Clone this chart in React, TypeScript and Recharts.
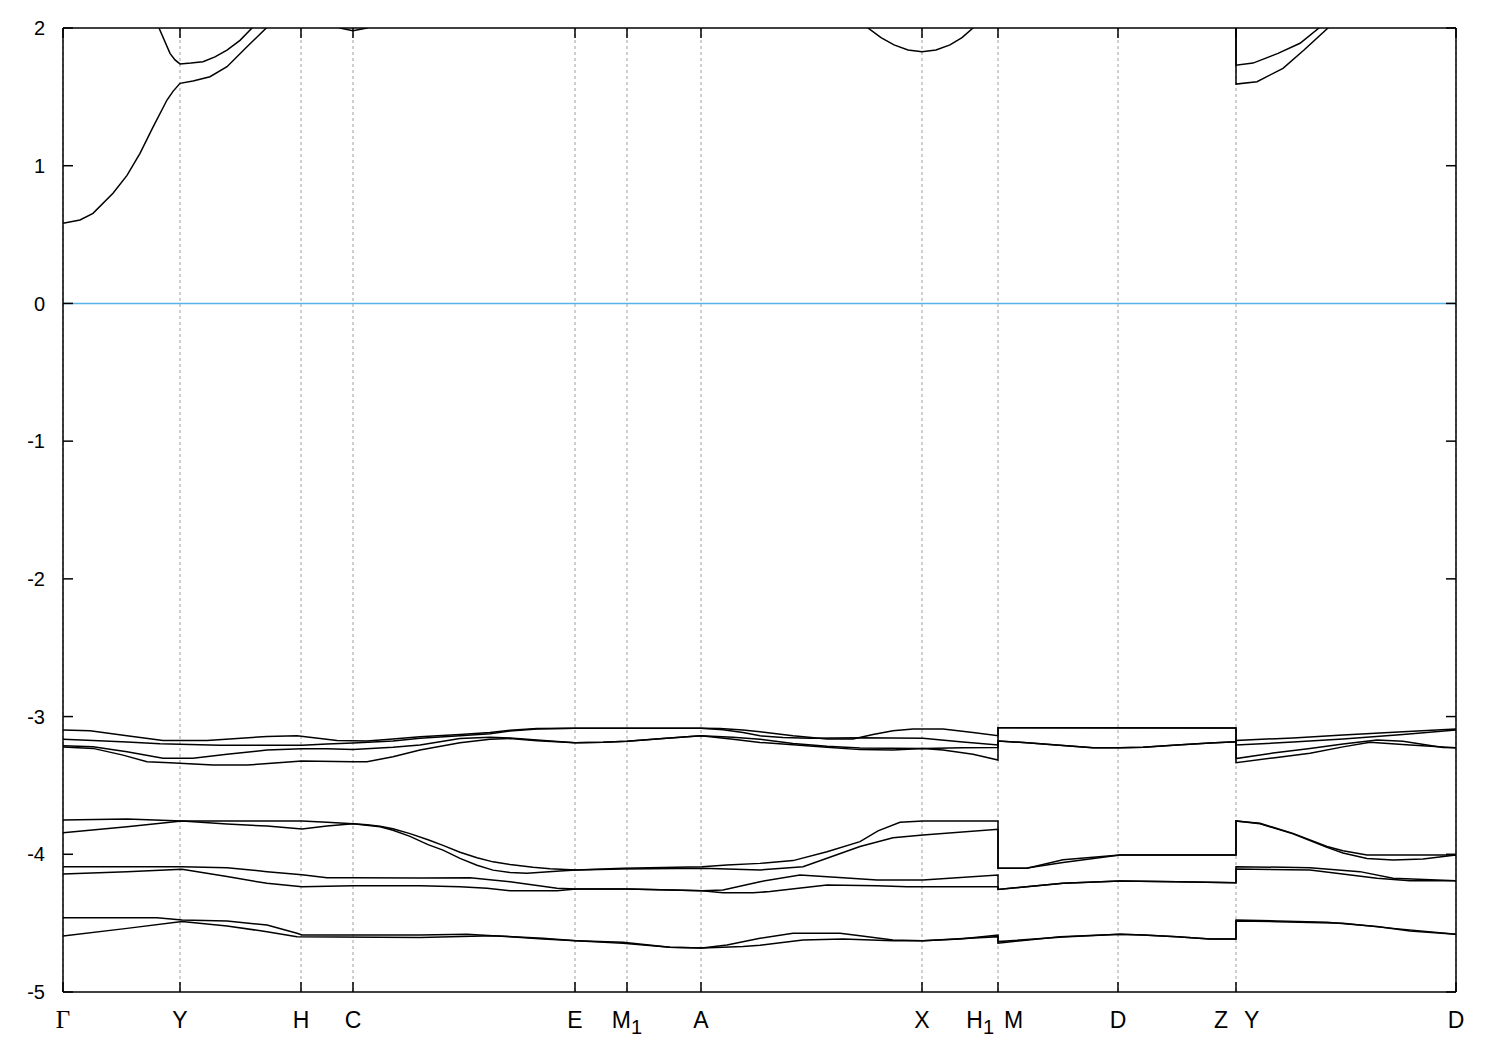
import React from 'react';
import { LineChart, Line, XAxis, YAxis, CartesianGrid, ReferenceLine } from 'recharts';

// k-path positions of the high-symmetry points and their labels
const kTicks = [0, 117, 238, 290, 512, 564, 638, 859, 935, 1055, 1173, 1393];
const kLabels = ['Γ', 'Y', 'H', 'C', 'E', 'M_1', 'A', 'X', 'H_1|M', 'D', 'Z|Y', 'D'];
const eTicks = [-5, -4, -3, -2, -1, 0, 1, 2];

// conduction bands [k, E]
const c1 = [[0,0.582],[17,0.606],[30,0.654],[50,0.80],[64,0.93],[77,1.09],[90,1.28],[104,1.477],[110,1.54],[117,1.598],[130,1.615],[147,1.646],[164,1.719],[184,1.864],[204,2.005],[238,2.2],[262,2.08],[277,2.0],[290,1.98],[304,2.0],[320,2.1],[350,2.3],[780,2.3],[805,2.0],[818,1.93],[831,1.877],[845,1.84],[859,1.828],[873,1.84],[887,1.877],[899,1.93],[910,2.0],[935,2.2],[935,2.5],[1173,2.5],[1173,1.593],[1194,1.61],[1220,1.707],[1241,1.84],[1265,2.0],[1290,2.2],[1393,2.5]];
const c2 = [[0,2.6],[80,2.25],[96,2.0],[107,1.816],[112,1.768],[117,1.739],[128,1.745],[140,1.755],[152,1.79],[164,1.84],[177,1.91],[189,2.0],[210,2.25],[230,2.6],[1173,2.6],[1173,1.73],[1190,1.745],[1215,1.816],[1237,1.889],[1256,2.0],[1280,2.2],[1393,2.6]];

// valence bands, upper group
const v1 = [[0,-3.098],[27,-3.103],[64,-3.139],[100,-3.173],[144,-3.173],[204,-3.144],[234,-3.139],[274,-3.173],[304,-3.177],[330,-3.163],[357,-3.146],[397,-3.13],[427,-3.115],[447,-3.10],[474,-3.087],[512,-3.085],[564,-3.085],[638,-3.085],[657,-3.086],[680,-3.097],[697,-3.110],[730,-3.14],[764,-3.163],[790,-3.163],[810,-3.13],[830,-3.103],[850,-3.09],[880,-3.09],[910,-3.115],[935,-3.139],[935,-3.081],[1173,-3.083],[1173,-3.335],[1210,-3.30],[1247,-3.267],[1280,-3.22],[1307,-3.187],[1347,-3.207],[1393,-3.226]];
const v2 = [[0,-3.165],[30,-3.173],[64,-3.185],[97,-3.197],[157,-3.209],[239,-3.209],[264,-3.20],[290,-3.192],[330,-3.177],[357,-3.158],[397,-3.14],[427,-3.125],[447,-3.105],[474,-3.09],[512,-3.085],[564,-3.085],[638,-3.085],[660,-3.095],[680,-3.115],[697,-3.14],[720,-3.152],[747,-3.158],[797,-3.153],[860,-3.158],[897,-3.182],[935,-3.206],[935,-3.177],[964,-3.19],[1000,-3.21],[1030,-3.226],[1057,-3.226],[1080,-3.222],[1114,-3.207],[1147,-3.192],[1173,-3.183],[1173,-3.207],[1230,-3.185],[1280,-3.163],[1340,-3.13],[1393,-3.098]];
const v3 = [[0,-3.211],[30,-3.219],[64,-3.255],[100,-3.303],[130,-3.303],[164,-3.274],[204,-3.243],[239,-3.233],[264,-3.233],[290,-3.240],[330,-3.223],[357,-3.206],[397,-3.16],[427,-3.15],[447,-3.155],[474,-3.17],[512,-3.19],[540,-3.187],[564,-3.18],[600,-3.16],[638,-3.139],[670,-3.15],[697,-3.165],[730,-3.195],[764,-3.215],[797,-3.228],[860,-3.231],[900,-3.226],[935,-3.224],[935,-3.177],[964,-3.19],[1000,-3.21],[1030,-3.226],[1057,-3.226],[1080,-3.222],[1114,-3.207],[1147,-3.192],[1173,-3.183],[1173,-3.173],[1230,-3.155],[1280,-3.134],[1340,-3.11],[1393,-3.09]];
const v4 = [[0,-3.221],[30,-3.231],[60,-3.28],[84,-3.328],[107,-3.335],[150,-3.352],[184,-3.352],[239,-3.323],[290,-3.328],[304,-3.328],[330,-3.291],[357,-3.243],[397,-3.19],[427,-3.165],[447,-3.16],[474,-3.175],[512,-3.19],[540,-3.187],[564,-3.18],[600,-3.16],[638,-3.139],[670,-3.165],[697,-3.188],[730,-3.205],[764,-3.222],[797,-3.24],[830,-3.243],[860,-3.231],[880,-3.243],[910,-3.274],[935,-3.316],[935,-3.081],[1173,-3.083],[1173,-3.305],[1210,-3.265],[1247,-3.231],[1280,-3.20],[1314,-3.170],[1340,-3.18],[1380,-3.224],[1393,-3.226]];

// valence bands, middle group
const w1 = [[0,-3.751],[64,-3.744],[119,-3.758],[164,-3.758],[239,-3.758],[264,-3.768],[290,-3.778],[304,-3.785],[317,-3.797],[330,-3.815],[347,-3.85],[365,-3.895],[380,-3.935],[397,-3.985],[414,-4.025],[430,-4.055],[447,-4.075],[470,-4.095],[487,-4.105],[513,-4.114],[560,-4.102],[639,-4.09],[664,-4.078],[697,-4.066],[730,-4.046],[764,-3.981],[797,-3.908],[815,-3.83],[837,-3.768],[860,-3.758],[935,-3.758],[935,-4.102],[964,-4.102],[1000,-4.04],[1057,-4.005],[1173,-4.005],[1173,-3.758],[1197,-3.775],[1230,-3.848],[1264,-3.944],[1280,-3.975],[1304,-4.005],[1393,-4.005]];
const w2 = [[0,-3.843],[64,-3.80],[119,-3.758],[164,-3.78],[204,-3.795],[239,-3.816],[264,-3.795],[290,-3.778],[317,-3.80],[330,-3.825],[347,-3.87],[365,-3.93],[380,-3.97],[397,-4.03],[414,-4.08],[430,-4.115],[447,-4.133],[464,-4.138],[497,-4.122],[513,-4.114],[560,-4.107],[639,-4.102],[664,-4.107],[697,-4.114],[740,-4.090],[764,-4.029],[797,-3.944],[830,-3.880],[860,-3.860],[935,-3.819],[935,-4.102],[964,-4.10],[1000,-4.06],[1057,-4.005],[1173,-4.005],[1173,-3.758],[1197,-3.778],[1230,-3.852],[1264,-3.95],[1280,-3.99],[1304,-4.03],[1330,-4.041],[1360,-4.035],[1393,-4.005]];
const w3 = [[0,-4.090],[30,-4.090],[119,-4.090],[164,-4.097],[204,-4.126],[239,-4.148],[264,-4.170],[290,-4.170],[357,-4.172],[407,-4.170],[447,-4.199],[494,-4.247],[513,-4.252],[564,-4.252],[610,-4.259],[639,-4.264],[660,-4.259],[697,-4.199],[737,-4.150],[780,-4.170],[814,-4.187],[860,-4.187],[935,-4.150],[935,-4.255],[1000,-4.21],[1057,-4.194],[1114,-4.199],[1173,-4.206],[1173,-4.090],[1247,-4.097],[1297,-4.126],[1330,-4.174],[1393,-4.192]];
const w4 = [[0,-4.143],[64,-4.126],[119,-4.109],[164,-4.162],[204,-4.211],[239,-4.235],[290,-4.228],[357,-4.229],[397,-4.235],[424,-4.247],[447,-4.264],[494,-4.264],[513,-4.252],[564,-4.252],[639,-4.264],[660,-4.279],[690,-4.279],[707,-4.271],[764,-4.223],[814,-4.228],[844,-4.235],[935,-4.235],[935,-4.255],[1000,-4.21],[1057,-4.194],[1114,-4.199],[1173,-4.206],[1173,-4.107],[1247,-4.114],[1314,-4.174],[1347,-4.192],[1393,-4.192]];

// valence bands, lower group
const u1 = [[0,-4.460],[94,-4.460],[119,-4.477],[164,-4.484],[204,-4.514],[234,-4.574],[239,-4.586],[357,-4.586],[404,-4.581],[447,-4.598],[480,-4.615],[513,-4.627],[560,-4.639],[607,-4.675],[639,-4.680],[664,-4.658],[697,-4.61],[730,-4.574],[777,-4.574],[797,-4.591],[830,-4.622],[860,-4.627],[897,-4.615],[935,-4.586],[935,-4.646],[997,-4.598],[1057,-4.581],[1080,-4.586],[1114,-4.598],[1147,-4.615],[1173,-4.615],[1173,-4.477],[1214,-4.484],[1264,-4.494],[1314,-4.525],[1347,-4.557],[1393,-4.581]];
const u2 = [[0,-4.593],[64,-4.538],[119,-4.489],[164,-4.521],[204,-4.562],[234,-4.598],[357,-4.605],[430,-4.591],[480,-4.61],[513,-4.627],[560,-4.646],[607,-4.675],[639,-4.680],[680,-4.670],[697,-4.66],[740,-4.622],[780,-4.615],[830,-4.627],[860,-4.627],[935,-4.598],[935,-4.634],[1000,-4.60],[1057,-4.581],[1080,-4.586],[1114,-4.598],[1147,-4.615],[1173,-4.615],[1173,-4.484],[1214,-4.489],[1280,-4.501],[1330,-4.538],[1393,-4.581]];

const bands = [c1, c2, v1, v2, v3, v4, w1, w2, w3, w4, u1, u2];
const toPts = (a: number[][]) => a.map(([k, e]) => ({ k, e }));

const SANS = 'Liberation Sans, Arial, Helvetica, sans-serif';
const FS = 23;
const SUB = 20;
const TICK = 10;

const Part = ({ s, x, anchor }: { s: string; x: number; anchor: string }) => {
  const [main, sub] = s.split('_');
  const serif = main === 'Γ';
  return (
    <text x={x} y={0} textAnchor={anchor} fontSize={serif ? 25 : FS}
      fontFamily={serif ? 'Liberation Serif, Times New Roman, serif' : SANS} fill="#000">
      {main}
      {sub ? <tspan dy={6} fontSize={SUB}>{sub}</tspan> : null}
    </text>
  );
};

// bottom axis is mirrored (ticks inside); labels placed below the frame
const XTick = (props: any) => {
  const { x, y, payload } = props;
  const idx = kTicks.indexOf(payload.value);
  const label = kLabels[idx] ?? '';
  const parts = label.split('|');
  const sub = parts[0].includes('_');
  return (
    <g transform={`translate(${x},${y + TICK + 36})`}>
      {parts.length === 1 ? (
        <Part s={parts[0]} x={0} anchor="middle" />
      ) : (
        <>
          <Part s={parts[0]} x={sub ? -4 : -8} anchor="end" />
          <Part s={parts[1]} x={sub ? 6 : 8} anchor="start" />
        </>
      )}
    </g>
  );
};

// left axis is mirrored (ticks inside); labels placed left of the frame
const YTick = (props: any) => {
  const { x, y, payload } = props;
  return (
    <text x={x - TICK - 18} y={y} dy="0.36em" textAnchor="end" fontSize={20} fontFamily={SANS} fill="#000">
      {payload.value}
    </text>
  );
};

const NoTick = () => <g />;

export default function App() {
  return (
    <div style={{ width: 1492, height: 1042 }}>
      <LineChart width={1492} height={1042} margin={{ top: 20, right: 44, bottom: 58, left: 55 }}>
        <CartesianGrid horizontal={false} stroke="#a0a0a0" strokeDasharray="3 3" />
        <XAxis xAxisId={0} dataKey="k" type="number" domain={[0, 1393]} allowDataOverflow
          ticks={kTicks} interval={0} mirror height={1} tickSize={TICK} tickMargin={0}
          stroke="#000" strokeWidth={1.5} tick={XTick} />
        <XAxis xAxisId="top" orientation="top" dataKey="k" type="number" domain={[0, 1393]} allowDataOverflow
          ticks={kTicks} interval={0} mirror height={1} tickSize={TICK} tick={NoTick}
          stroke="#000" strokeWidth={1.5} />
        <YAxis yAxisId={0} type="number" domain={[-5, 2]} allowDataOverflow ticks={eTicks} interval={0}
          mirror width={1} tickSize={TICK} tickMargin={0} stroke="#000" strokeWidth={1.5} tick={YTick} />
        <YAxis yAxisId="right" orientation="right" type="number" domain={[-5, 2]} allowDataOverflow
          ticks={eTicks} interval={0} mirror width={1} tickSize={TICK} tick={NoTick}
          stroke="#000" strokeWidth={1.5} />
        <ReferenceLine y={0} stroke="#56b4e9" strokeWidth={1.5} />
        {bands.map((b, i) => (
          <Line key={i} data={toPts(b)} dataKey="e" type="linear" stroke="#000" strokeWidth={1.5}
            dot={false} activeDot={false} isAnimationActive={false} />
        ))}
      </LineChart>
    </div>
  );
}
